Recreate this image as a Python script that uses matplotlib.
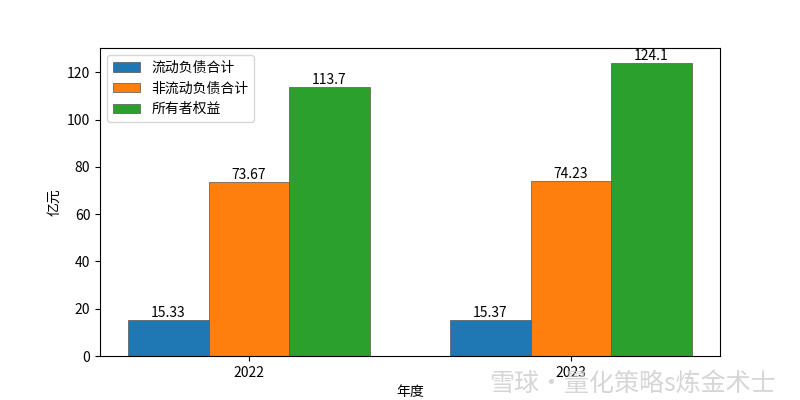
import numpy as np
from matplotlib import pyplot as plt

plt.rcParams['font.family'] = ['Noto Sans CJK SC', 'DejaVu Sans']
plt.rcParams['axes.unicode_minus'] = False

years = ['2022', '2023']
series = ['流动负债合计', '非流动负债合计', '所有者权益']
current_liab = [15.33, 15.37]
noncurrent_liab = [73.67, 74.23]
equity = [113.7, 124.1]
value_labels = [['15.33', '15.37'], ['73.67', '74.23'], ['113.7', '124.1']]

colors = ['#1f77b4', '#ff7f0e', '#2ca02c']
width = 0.25
x = np.arange(len(years))

fig, ax = plt.subplots(figsize=(8, 4), dpi=100)
for i, (name, vals) in enumerate(zip(series, [current_liab, noncurrent_liab, equity])):
    bars = ax.bar(x + (i - 1) * width, vals, width, label=name,
                  color=colors[i], edgecolor='#555555', linewidth=0.5)
    ax.bar_label(bars, labels=value_labels[i], fontsize=10)

ax.set_xticks(x)
ax.set_xticklabels(years)
ax.set_xlabel('年度')
ax.set_ylabel('亿元')
ax.legend(loc='upper left')

# watermark from the source image
fig.text(0.97, 0.04, '雪球·量化策略s炼金术士', ha='right', va='center',
         fontsize=18, color='#cccccc', alpha=0.8)

plt.savefig('out.png')
